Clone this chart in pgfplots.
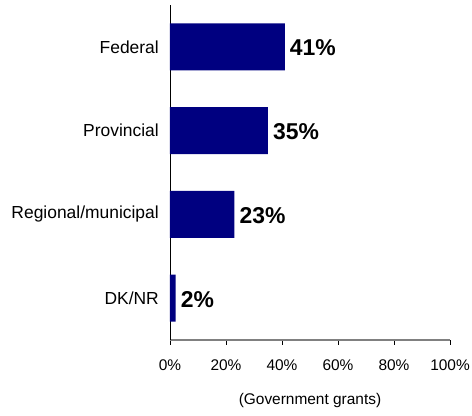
\documentclass[border=0pt]{standalone}
\usepackage{pgfplots}
\pgfplotsset{compat=1.18}
\usepackage{fontspec}
\setmainfont{Liberation Sans}
\definecolor{barblue}{RGB}{0,0,128}
\definecolor{axgray}{RGB}{128,128,128}
\begin{document}
\begin{tikzpicture}
\begin{axis}[
  /pgf/number format/assume math mode=true,
  scale only axis,
  width=280bp, height=335bp,
  xbar,
  bar width=47bp,
  xmin=0, xmax=100,
  ymin=-0.5, ymax=3.5,
  axis x line*=bottom,
  axis y line*=left,
  x axis line style={draw=axgray, line width=1.2pt},
  y axis line style={draw=black, line width=0.8pt},
  xtick={0,20,40,60,80,100},
  xticklabels={0\%,20\%,40\%,60\%,80\%,100\%},
  xtick style={draw=black, line width=0.8pt},
  tick align=outside,
  major tick length=5bp,
  xticklabel style={font=\fontsize{15.5}{17}\selectfont, anchor=center, yshift=-20bp},
  ytick={0,1,2,3},
  yticklabels={DK/NR,Regional/municipal,Provincial,Federal},
  ytick style={draw=none},
  yticklabel style={font=\fontsize{17.5}{19}\selectfont, anchor=east, inner sep=0pt, xshift=-6bp},
  xlabel={(Government grants)},
  xlabel style={font=\fontsize{15.5}{17}\selectfont, at={(axis description cs:0.5,0)}, anchor=center, yshift=-61bp},
  nodes near coords={\textbf{\pgfmathprintnumber{\pgfplotspointmeta}\%}},
  point meta=x,
  every node near coord/.append style={font=\fontsize{23}{25}\selectfont\bfseries, anchor=west, inner sep=0pt, xshift=5bp, yshift=-1bp, text=black},
  clip=false,
]
\addplot[fill=barblue, draw=none] coordinates {(41,3) (35,2) (23,1) (2,0)};
\end{axis}
\pgfresetboundingbox
\path[use as bounding box] ([shift={(-170bp,-76bp)}]current axis.south west) rectangle ([shift={(22bp,5bp)}]current axis.north east);
\end{tikzpicture}
\end{document}
